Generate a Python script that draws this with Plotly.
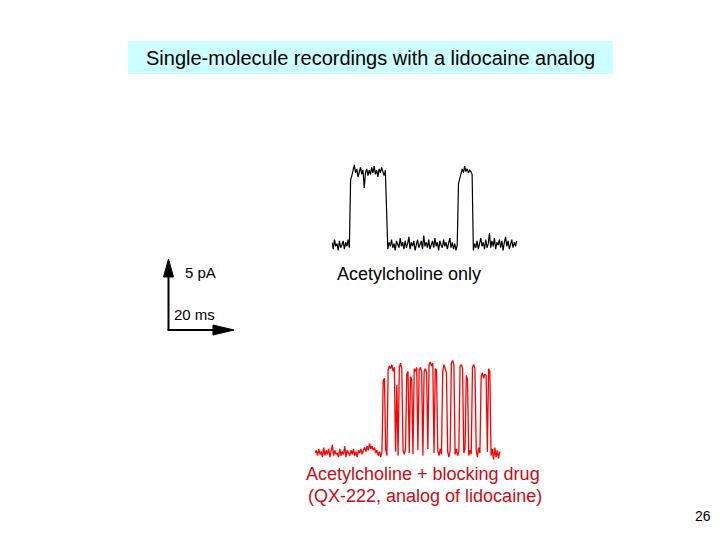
import plotly.graph_objects as go

# ---------------- data (time step 0.4 ms, current in pA) ----------------
dt_ms = 0.4

# Acetylcholine only (black trace)
ach_only_pA = [
    0.2, -0.3, 0.4, -0.1, 0.1, -0.4, 0.3, -0.2, 0.0, 0.3, -0.3, 0.2, -0.1, 0.4, -0.2,
    4.8,
    5.1, 5.5, 5.9, 5.3, 5.6, 5.0, 5.4, 5.7, 5.2, 5.5, 4.2, 5.3, 5.6, 5.1, 5.5, 5.2,
    5.7, 5.3, 5.8, 5.2, 5.5, 5.0, 5.6, 5.3, 5.7, 5.4, 5.1, 5.5,
    3.2,
    -0.3, 0.2, -0.1, 0.4, -0.2, 0.1, -0.4, 0.3, 0.0, -0.2,
    0.5, -0.1, 0.2, -0.3, 0.3, -0.2, 0.1, 0.6, -0.3, 0.2,
    -0.1, 0.3, -0.4, 0.1, 0.4, -0.2, 0.0, 0.3, -0.3, 0.7,
    -0.1, 0.2, -0.2, 0.4, -0.3, 0.1, 0.3, -0.2, 0.5, -0.1,
    0.2, -0.4, 0.3, 0.0, -0.2, 0.4, -0.1, 0.2, -0.3, 0.1,
    0.5, -0.2, 0.2, -0.3, 0.1, -0.4, 0.0,
    4.5, 4.9, 5.4, 5.6, 5.3, 5.8, 5.4, 5.6, 5.3, 5.5, 5.4, 5.2,
    -0.4, 0.1, -0.2, 0.3, -0.3, 0.2, 0.5, -0.1, 0.2, -0.3, 0.4, -0.2,
    0.1, 0.9, -0.2, 0.3, -0.1, 0.5, -0.3, 0.2, 0.0, 0.4, -0.2, 0.3,
    -0.4, 0.2, 0.6, -0.1, 0.3, -0.3, 0.1, 0.4, -0.2, 0.2, -0.1, 0.3,
]

# Acetylcholine + blocking drug QX-222 (red trace)
ach_qx222_pA = [
    0.0, 0.2, -0.2, 0.3, -0.1, 0.1, -0.3, 0.4, -0.2, 0.2,
    -0.1, 0.3, -0.3, 0.1, 0.6, -0.2, 0.2, -0.1, 0.0, -0.3,
    0.3, -0.2, 0.1, -0.1, 0.5, -0.3, 0.2, 0.0, -0.2, 0.2,
    -0.1, 0.3, -0.2, 0.1, -0.3, 0.2, 0.0, 0.3, -0.1, 0.2,
    0.4, 0.1, 0.5, 0.2, 0.7, 0.3, 0.5, 0.2, 0.4, 0.0,
    0.2, -0.2, 0.1, -0.3, 0.1,
    5.3, 5.5,
    0.3, -0.2,
    6.1, 6.4, 6.2, 6.5, 6.0, 6.3,
    0.1,
    5.0,
    -0.2,
    6.3, 6.6, 6.2,
    0.2, -0.1, 0.3,
    5.8, 6.0,
    0.0,
    5.6, 5.4,
    -0.1,
    6.2, 6.0, 6.3,
    0.2,
    6.1, 6.3, 6.0,
    -0.2,
    6.0, 6.2, 5.9,
    0.3,
    6.5, 6.7, 6.4, 6.6,
    0.0,
    6.2, 6.1,
    0.2, -0.2, 0.3, -0.1,
    6.0, 6.5, 6.2, 5.9,
    0.1, -0.3, 0.2,
    6.6, 6.8, 6.5,
    -0.1, 0.3, -0.2, 0.1,
    6.4, 6.5, 6.2,
    0.0, 0.3,
    5.7, 5.4,
    -0.2, 0.2, -0.1,
    6.3, 6.5, 6.2,
    0.2, -0.3, 0.4, 0.0,
    5.6, 5.9, 5.5, 5.8, 5.7,
    0.1,
    6.2, 6.0,
    -0.2, 0.3, -0.5, 0.4, -0.3, 0.2, -0.4, 0.1,
]

title_text = "Single-molecule recordings with a lidocaine analog"
label_black = "Acetylcholine only"
label_red_1 = "Acetylcholine + blocking drug"
label_red_2 = "(QX-222, analog of lidocaine)"
scale_current = "5 pA"
scale_time = "20 ms"
page_number = "26"

# ---------------- layout helpers (window pixel -> paper) ----------------
# the page body has an 8 px margin, so the figure is drawn at (8, 8)
OFF = 8
W, H = 720 - OFF, 540 - OFF
def fx(p):
    return (p - OFF) / W
def fy(p):
    return 1 - (p - OFF) / H

PX_PER_MS = 3.1
PX_PER_PA = 13.6
span_ms = 60

def y_range(base_px, top_px, bottom_px):
    return [(base_px - bottom_px) / PX_PER_PA, (base_px - top_px) / PX_PER_PA]

FONT = "Liberation Sans, Arial, sans-serif"

fig = go.Figure()
fig.add_trace(go.Scatter(
    y=ach_only_pA, x0=0, dx=dt_ms, mode="lines",
    line=dict(color="black", width=1.2), xaxis="x", yaxis="y",
    hoverinfo="skip", showlegend=False))
fig.add_trace(go.Scatter(
    y=ach_qx222_pA, x0=0, dx=dt_ms, mode="lines",
    line=dict(color="#FF0000", width=1.3), xaxis="x2", yaxis="y2",
    hoverinfo="skip", showlegend=False))

axis_off = dict(visible=False, showgrid=False, zeroline=False, fixedrange=True)

bx0 = 332
fig.update_layout(
    xaxis=dict(axis_off, domain=[fx(bx0), fx(bx0 + span_ms * PX_PER_MS)],
               range=[0, span_ms], anchor="y"),
    yaxis=dict(axis_off, domain=[fy(262), fy(150)],
               range=y_range(245, 150, 262), anchor="x"),
    xaxis2=dict(axis_off, domain=[fx(315), fx(315 + span_ms * PX_PER_MS)],
                range=[0, span_ms], anchor="y2"),
    yaxis2=dict(axis_off, domain=[fy(470), fy(350)],
                range=y_range(453, 350, 470), anchor="x2"),
)

shapes = [
    dict(type="rect", xref="paper", yref="paper",
         x0=fx(128), x1=fx(613), y0=fy(74), y1=fy(41),
         fillcolor="#CCFFFF", line=dict(width=0), layer="below"),
    dict(type="line", xref="paper", yref="paper",
         x0=fx(168.5), x1=fx(168.5), y0=fy(330), y1=fy(272),
         line=dict(color="black", width=2)),
    dict(type="line", xref="paper", yref="paper",
         x0=fx(167.5), x1=fx(218), y0=fy(330), y1=fy(330),
         line=dict(color="black", width=2)),
    dict(type="path", xref="paper", yref="paper",
         path=f"M {fx(168.5)} {fy(259)} L {fx(163.5)} {fy(277)} L {fx(173.5)} {fy(277)} Z",
         fillcolor="black", line=dict(color="black", width=1)),
    dict(type="path", xref="paper", yref="paper",
         path=f"M {fx(234)} {fy(330)} L {fx(213)} {fy(325)} L {fx(213)} {fy(335)} Z",
         fillcolor="black", line=dict(color="black", width=1)),
]

def ann(text, x, y, size, color="black", xanchor="left"):
    return dict(text=text, x=fx(x), y=fy(y), xref="paper", yref="paper",
                showarrow=False, xanchor=xanchor, yanchor="middle",
                font=dict(family=FONT, size=size, color=color))

red_text = "#CC0A14"
annotations = [
    ann(title_text, 370.5, 57.5, 20, xanchor="center"),
    ann(label_black, 335, 274, 18),
    ann(label_red_1, 304, 474, 18, red_text),
    ann(label_red_2, 306, 496, 18, red_text),
    ann(scale_current, 183, 272, 15),
    ann(scale_time, 172, 314, 15),
    ann(page_number, 713, 516, 14, xanchor="right"),
]

fig.update_layout(
    width=W, height=H,
    margin=dict(l=0, r=0, t=0, b=0),
    paper_bgcolor="white", plot_bgcolor="rgba(0,0,0,0)",
    shapes=shapes, annotations=annotations,
    showlegend=False,
)

fig.write_html("out.html")
